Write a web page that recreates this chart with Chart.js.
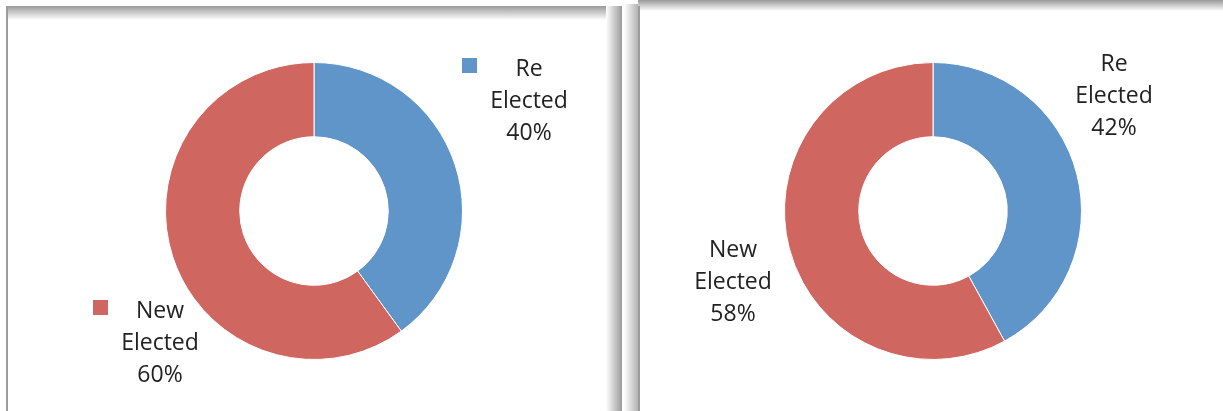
<!DOCTYPE html>
<html>
<head>
<meta charset="utf-8">
<script src="https://cdn.jsdelivr.net/npm/chart.js@4/dist/chart.umd.min.js"></script>
<style>
  html, body { margin: 0; padding: 0; background: #fff; }
  body { width: 1223px; height: 411px; position: relative; overflow: hidden; }
  .panel { position: absolute; top: 0; height: 411px; }
  .panel canvas { position: absolute; left: 0; top: 0; }
  .edge { position: absolute; }
</style>
</head>
<body>
<!-- frame edges of the two chart boxes -->
<div class="edge" style="left:6px;top:6px;width:602px;height:14px;background:linear-gradient(to bottom,#9a9a9a,#fff);"></div>
<div class="edge" style="left:6px;top:6px;width:2px;height:405px;background:#9c9c9c;"></div>
<div class="edge" style="left:606px;top:6px;width:16px;height:405px;background:linear-gradient(to right,#fff,#9a9a9a);"></div>
<div class="edge" style="left:638px;top:0;width:585px;height:11px;background:linear-gradient(to bottom,#9a9a9a,#fff);"></div>
<div class="edge" style="left:624px;top:4px;width:14px;height:407px;background:linear-gradient(to right,#fff,#b4b4b4);"></div>
<div class="edge" style="left:638px;top:6px;width:2px;height:405px;background:#9c9c9c;"></div>

<div class="panel" style="left:0;width:606px;"><canvas id="leftChart" width="606" height="411"></canvas></div>
<div class="panel" style="left:640px;width:583px;"><canvas id="rightChart" width="583" height="411"></canvas></div>

<script>
const categories = ['Re Elected', 'New Elected'];
const leftValues = [40, 60];
const rightValues = [42, 58];
const sliceColors = ['#5f95c8', '#cf6660'];

// label placement: offset of the first text baseline from the ring centre
const leftLabels = [
  { dx: 215, dy: -135, key: true },
  { dx: -154, dy: 107, key: true }
];
const rightLabels = [
  { dx: 181, dy: -140, key: false },
  { dx: -200, dy: 46, key: false }
];

const ringLabels = {
  id: 'ringLabels',
  afterDraw(chart, args, opts) {
    const ctx = chart.ctx;
    const arc = chart.getDatasetMeta(0).data[0];
    const cx = arc.x, cy = arc.y;
    const values = chart.data.datasets[0].data;
    const total = values.reduce((a, b) => a + b, 0);
    ctx.save();
    ctx.font = '23px "Open Sans", sans-serif';
    ctx.textAlign = 'center';
    ctx.textBaseline = 'alphabetic';
    opts.places.forEach((p, i) => {
      const lines = chart.data.labels[i].split(' ');
      lines.push(Math.round(values[i] / total * 100) + '%');
      const x = cx + p.dx, y = cy + p.dy;
      ctx.fillStyle = '#222222';
      lines.forEach((t, j) => ctx.fillText(t, x, y + j * 32));
      if (p.key) {
        // small colour key beside the first line
        ctx.fillStyle = sliceColors[i];
        ctx.fillRect(x - 67, y - 18, 15, 15);
      }
    });
    ctx.restore();
  }
};

function makeRing(id, values, places, pad) {
  return new Chart(document.getElementById(id), {
    type: 'doughnut',
    data: {
      labels: categories,
      datasets: [{
        data: values,
        backgroundColor: sliceColors,
        borderColor: '#ffffff',
        borderWidth: 1
      }]
    },
    options: {
      responsive: false,
      animation: false,
      cutout: '50%',
      layout: { padding: pad },
      plugins: {
        legend: { display: false },
        tooltip: { enabled: false },
        ringLabels: { places: places }
      }
    },
    plugins: [ringLabels]
  });
}

makeRing('leftChart', leftValues, leftLabels, { left: 165, right: 143, top: 62, bottom: 51 });
makeRing('rightChart', rightValues, rightLabels, { left: 144, right: 141, top: 62, bottom: 51 });
</script>
</body>
</html>
